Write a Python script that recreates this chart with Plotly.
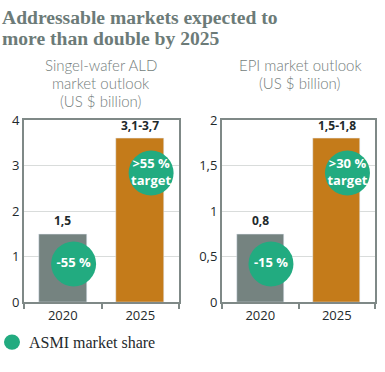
import plotly.graph_objects as go

# ---- data ----
years = ["2020", "2025"]
ald_values = [1.5, 3.6]
ald_labels = ["1,5", "3,1-3,7"]
ald_share = ["-55 %", ">55 %<br>target"]
epi_values = [0.75, 1.8]
epi_labels = ["0,8", "1,5-1,8"]
epi_share = ["-15 %", ">30 %<br>target"]
ald_ticks = [0, 1, 2, 3, 4]
epi_ticks = [0, 0.5, 1, 1.5, 2]

GRAY = "#758380"
ORANGE = "#C47B1A"
GREEN = "#22AB80"
FRAME = "#7f8987"
TXT = "#1f2a2c"

W, H = 385, 372
fig = go.Figure()

xpos = list(range(len(years)))
circle_frac = [0.21, 0.71]   # vertical placement of share bubbles (fraction of axis max)

panels = [
    ("x", "y", ald_values, ald_labels, ald_share, ald_ticks),
    ("x2", "y2", epi_values, epi_labels, epi_share, epi_ticks),
]
for xa, ya, vals, labs, shares, ticks in panels:
    fig.add_trace(go.Bar(x=xpos, y=vals, marker_color=[GRAY, ORANGE], width=0.62,
                         xaxis=xa, yaxis=ya, showlegend=False, hoverinfo="skip"))
    ymax = ticks[-1]
    fig.add_trace(go.Scatter(x=[p + 0.14 for p in xpos], y=[f * ymax for f in circle_frac],
                             mode="markers+text", text=shares,
                             marker=dict(size=45, color=GREEN),
                             textfont=dict(color="white", size=13, family="Liberation Sans Narrow, Open Sans",
                                           weight="bold"),
                             textposition="middle center",
                             xaxis=xa, yaxis=ya, showlegend=False, hoverinfo="skip"))
    for p, v, l in zip(xpos, vals, labs):
        fig.add_annotation(x=p, y=v, text=l, xref=xa, yref=ya, showarrow=False,
                           yanchor="bottom", yshift=3,
                           font=dict(size=12, color=TXT, family="Open Sans", weight="bold"))

axis_common = dict(showline=True, mirror=True, linecolor=FRAME, linewidth=2)
xcommon = dict(axis_common, range=[-0.5, 1.5], tickvals=xpos, ticktext=years, ticks="",
               showgrid=False, zeroline=False, tickfont=dict(size=13, color=TXT, family="Open Sans"),
               minor=dict(tickvals=[-0.5, 0.5, 1.5], ticks="outside", ticklen=5, tickwidth=1.5,
                          tickcolor=FRAME, showgrid=False))
ycommon = dict(axis_common, showgrid=True, gridcolor="#d9dcdb", gridwidth=1, zeroline=False,
               ticks="", tickfont=dict(size=13, color=TXT, family="Open Sans"))

fig.update_layout(
    width=W, height=H, margin=dict(l=0, r=0, t=0, b=0),
    paper_bgcolor="white", plot_bgcolor="white", separators=",.",
    bargap=0,
    xaxis=dict(xcommon, domain=[24 / W, 179 / W], anchor="y"),
    yaxis=dict(ycommon, domain=[64 / H, 255 / H], range=[0, ald_ticks[-1]], tickvals=ald_ticks, anchor="x"),
    xaxis2=dict(xcommon, domain=[222 / W, 375 / W], anchor="y2"),
    yaxis2=dict(ycommon, domain=[64 / H, 255 / H], range=[0, epi_ticks[-1]], tickvals=epi_ticks, anchor="x2"),
)

# title (two lines placed separately for tight line spacing)
for txt, yc in [("Addressable markets expected to", 9), ("more than double by 2025", 31)]:
    fig.add_annotation(x=0, y=1 - yc / H, xref="paper", yref="paper", xanchor="left", yanchor="middle",
                       text="<b>" + txt + "</b>", showarrow=False, align="left",
                       font=dict(family="Liberation Serif", size=19.6, color="#6c7b78"))
# subtitles
for i, line in enumerate(["Singel-wafer ALD", "market outlook", "(US $ billion)"]):
    fig.add_annotation(x=101 / W, y=1 - (59 + 19 * i) / H, xref="paper", yref="paper",
                       xanchor="center", yanchor="middle", text=line, showarrow=False,
                       font=dict(family="Lato", size=15, color="#737d7b", weight=300))
for i, line in enumerate(["EPI market outlook", "(US $ billion)"]):
    fig.add_annotation(x=300 / W, y=1 - (59 + 19 * i) / H, xref="paper", yref="paper",
                       xanchor="center", yanchor="middle", text=line, showarrow=False,
                       font=dict(family="Lato", size=15, color="#737d7b", weight=300))
# legend
fig.add_shape(type="circle", xref="paper", yref="paper",
              x0=4 / W, x1=20 / W, y0=1 - 358 / H, y1=1 - 342 / H,
              fillcolor=GREEN, line=dict(width=0))
fig.add_annotation(x=27 / W, y=1 - 350 / H, xref="paper", yref="paper", xanchor="left", yanchor="middle",
                   text="ASMI market share", showarrow=False,
                   font=dict(family="Liberation Serif", size=16, color=TXT))

fig.write_html("out.html", config={"displayModeBar": False},
               post_script="document.body.style.margin='0';document.body.style.overflow='hidden';"
                           "document.documentElement.style.overflow='hidden';")
